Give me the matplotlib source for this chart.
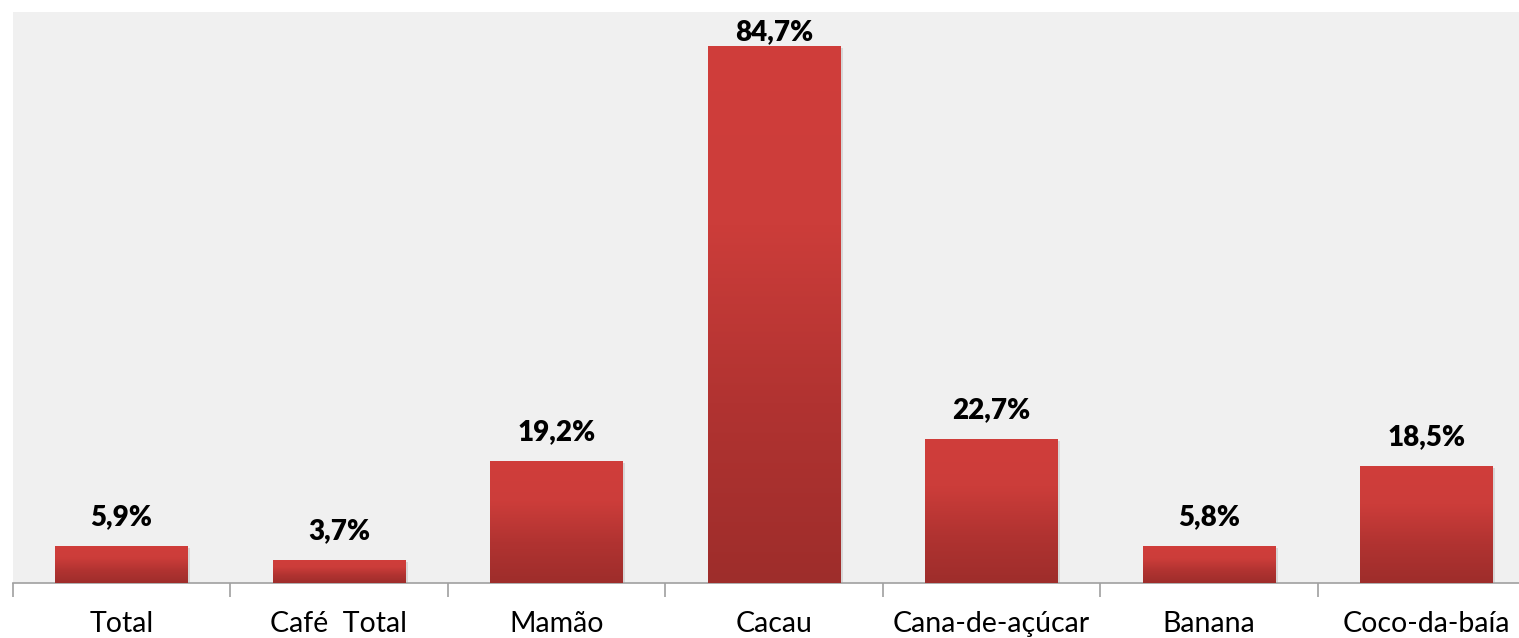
import matplotlib
matplotlib.use("Agg")
import matplotlib.pyplot as plt
import numpy as np
from matplotlib.colors import LinearSegmentedColormap

categories = ["Total", "Café  Total", "Mamão", "Cacau", "Cana-de-açúcar", "Banana", "Coco-da-baía"]
values = [5.9, 3.7, 19.2, 84.7, 22.7, 5.8, 18.5]
labels = ["5,9%", "3,7%", "19,2%", "84,7%", "22,7%", "5,8%", "18,5%"]

plt.rcParams['font.family'] = ['Lato', 'DejaVu Sans']

W, H = 1519, 638
fig = plt.figure(figsize=(W / 100, H / 100), dpi=100)
fig.patch.set_facecolor('white')
left = 12.75 / W
bottom = (H - 583) / H
width = (217.5 * 7) / W
height = (583 - 12) / H
ax = fig.add_axes([left, bottom, width, height])
ax.set_facecolor('#F0F0F0')

n = len(categories)
x = np.arange(n)
ax.set_xlim(-0.5, n - 0.5)
ax.set_ylim(0, 90)

cmap = LinearSegmentedColormap.from_list('g', ['#9E2D2B', '#B13331', '#CC3D3A', '#D03E3B'])
grad = np.linspace(0, 1, 256).reshape(-1, 1)
bw = 0.61
bars = ax.bar(x, values, width=bw, color='none', edgecolor='none', zorder=2)
for b, v in zip(bars, values):
    # subtle shadow
    ax.bar(b.get_x() + b.get_width() / 2 + 0.012, v, width=bw, bottom=-0.35,
           color='#000000', alpha=0.10, zorder=1, edgecolor='none')
    im = ax.imshow(grad, cmap=cmap, aspect='auto', origin='lower',
                   extent=[b.get_x(), b.get_x() + b.get_width(), 0, v], zorder=3)
    im.set_clip_path(b)

for xi, v, lab in zip(x, values, labels):
    y = min(v + 2.5, 84.8)
    ax.text(xi, y, lab, ha='center', va='bottom', fontsize=20, fontweight='heavy',
            color='black', zorder=4)

ax.set_xticks(np.arange(-0.5, n, 1.0))
ax.set_xticklabels([])
ax.set_xticks(x, minor=True)
ax.set_xticklabels(categories, minor=True, fontsize=20.5, color='black')
ax.tick_params(axis='x', which='major', length=10, width=1.2, color='#A0A0A0')
ax.tick_params(axis='x', which='minor', length=0, pad=20)
ax.set_yticks([])
for s in ['top', 'right', 'left']:
    ax.spines[s].set_visible(False)
ax.spines['bottom'].set_color('#A0A0A0')
ax.spines['bottom'].set_linewidth(1.2)

fig.savefig('out.png', dpi=100)
